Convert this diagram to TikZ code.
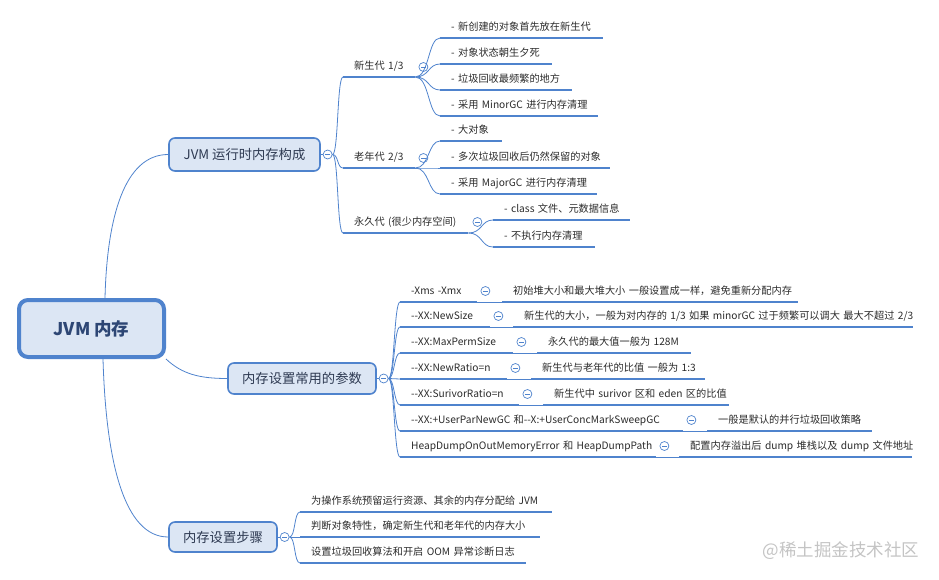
\documentclass[tikz,border=0pt]{standalone}
\usepackage{fontspec}
\newfontfamily\mapfont{Noto Sans CJK SC}
\usetikzlibrary{positioning,calc}
\definecolor{mapline}{HTML}{4F83CD}
\definecolor{mapfill}{HTML}{DCE6F4}
\definecolor{maptext}{HTML}{2E3A52}
\definecolor{roottext}{HTML}{2D4674}
\definecolor{leaftext}{HTML}{2B2B2B}
\definecolor{marktext}{HTML}{C4C4C4}
\tikzset{
  topic/.style={draw=mapline,fill=mapfill,line width=1.6pt,rounded corners=6pt,
    text=maptext,inner sep=0pt,font=\mapfont\fontsize{13.3}{16}\selectfont},
  central/.style={topic,line width=4pt,rounded corners=9pt,text=roottext,
    font=\mapfont\bfseries\fontsize{17.5}{21}\selectfont},
  leaf/.style={anchor=south west,inner xsep=11pt,inner ysep=5pt,text height=8pt,
    text depth=2pt,text=leaftext,font=\mapfont\fontsize{10.2}{12}\selectfont,
    execute at begin node=\hbox\bgroup,execute at end node=\egroup},
  uline/.style={draw=mapline,line width=2.7pt},
  link/.style={draw=mapline,line width=0.8pt},
  fold/.style={circle,draw=mapline,fill=white,line width=0.7pt,minimum size=9pt,
    inner sep=0pt,path picture={\draw[mapline,line width=0.7pt]
    ([xshift=-2.3pt]path picture bounding box.center) --
    ([xshift=2.3pt]path picture bounding box.center);}},
}

\begin{document}
\begin{tikzpicture}[x=1pt,y=-1pt]
  \useasboundingbox (0,0) rectangle (939,580);

  \node[central,minimum width=145pt,minimum height=57pt] (jvm) at (91.5,328.5) {JVM 内存};
  \node[topic,minimum width=151pt,minimum height=33pt] (rt) at (244.5,154.5) {JVM 运行时内存构成};
  \node[topic,minimum width=148pt,minimum height=31pt] (par) at (302,378.5) {内存设置常用的参数};
  \node[topic,minimum width=108pt,minimum height=30pt] (stp) at (223,537) {内存设置步骤};

  \draw[link] ([xshift=13.5pt]jvm.north) .. controls +(2,-80) and +(-44,0) .. (rt.west);
  \draw[link] (jvm.south east) .. controls +(16,15) and +(-28,0) .. (par.west);
  \draw[link] ([xshift=11.5pt]jvm.south) .. controls +(3,103) and +(-44,0) .. (stp.west);

  % runtime memory
  \node[fold,right=2pt of rt] (f-rt) {};
  \draw[link] (rt.east) -- (f-rt.west);
  \node[leaf,text width=50pt] (ng) at (343,77) {新生代 1/3};
  \node[leaf,text width=50pt] (og) at (343,168) {老年代 2/3};
  \node[leaf,text width=103pt] (pg) at (343,233) {永久代 (很少内存空间)};
  \node[leaf,text width=141pt] (ng1) at (440,38) {- 新创建的对象首先放在新生代};
  \node[leaf,text width=90pt] (ng2) at (440,64) {- 对象状态朝生夕死};
  \node[leaf,text width=110pt] (ng3) at (440,90) {- 垃圾回收最频繁的地方};
  \node[leaf,text width=136pt] (ng4) at (440,116) {- 采用 MinorGC 进行内存清理};
  \node[leaf,text width=40pt] (og1) at (440,141) {- 大对象};
  \node[leaf,text width=148pt] (og2) at (440,168) {- 多次垃圾回收后仍然保留的对象};
  \node[leaf,text width=135pt] (og3) at (440,194) {- 采用 MajorGC 进行内存清理};
  \node[leaf,text width=115pt] (pg1) at (493,220) {- class 文件、元数据信息};
  \node[leaf,text width=80pt] (pg2) at (493,247) {- 不执行内存清理};
  \node[fold] (f-ng) at ($(ng.south east)+(8,-10)$) {};
  \node[fold] (f-og) at ($(og.south east)+(8,-10)$) {};
  \node[fold] (f-pg) at ($(pg.south east)+(9,-11)$) {};

  \foreach \c in {ng,og,pg,ng1,ng2,ng3,ng4,og1,og2,og3,pg1,pg2}
    \draw[uline] (\c.south west) -- (\c.south east);
  \foreach \c in {ng,og,pg}
    \draw[link] (f-rt.east) .. controls +(6,0) and +(-6,0) .. (\c.south west);
  \foreach \c in {ng1,ng2,ng3,ng4}
    \draw[link] (ng.south east) .. controls +(14,0) and +(-12,0) .. (\c.south west);
  \foreach \c in {og1,og2,og3}
    \draw[link] (og.south east) .. controls +(14,0) and +(-12,0) .. (\c.south west);
  \foreach \c in {pg1,pg2}
    \draw[link] (pg.south east) .. controls +(14,0) and +(-12,0) .. (\c.south west);

  % parameters
  \node[fold,right=2pt of par] (f-par) {};
  \draw[link] (par.east) -- (f-par.west);
  \foreach \n/\y/\xl/\xr/\xe/\ta/\tb in {
    1/302/477/502/798/{-Xms -Xmx}/{初始堆大小和最大堆大小 一般设置成一样，避免重新分配内存},
    2/327/490/513/913/{--XX:NewSize}/{新生代的大小，一般为对内存的 1/3 如果 minorGC 过于频繁可以调大 最大不超过 2/3},
    3/353/513/537/691/{--XX:MaxPermSize}/{永久代的最大值一般为 128M},
    4/379/507/531/705/{--XX:NewRatio=n}/{新生代与老年代的比值 一般为 1:3},
    5/405/519/543/729/{--XX:SurivorRatio=n}/{新生代中 surivor 区和 eden 区的比值},
    6/431/683/707/872/{--XX:+UserParNewGC 和--X:+UserConcMarkSweepGC}/{一般是默认的并行垃圾回收策略},
    7/457/656/679/912/{HeapDumpOnOutMemoryError 和 HeapDumpPath}/{配置内存溢出后 dump 堆栈以及 dump 文件地址}}{
    \pgfmathsetmacro\wa{\xl-400-22}
    \pgfmathsetmacro\wb{\xe-\xr-22}
    \node[leaf,text width=\wa pt] (p\n) at (400,\y) {\ta};
    \node[leaf,text width=\wb pt] (d\n) at (\xr,\y) {\tb};
    \node[fold] (f-p\n) at ($(p\n.south east)+(8,-11)$) {};
    \draw[uline] (p\n.south west) -- (p\n.south east);
    \draw[uline] (d\n.south west) -- (d\n.south east);
    \draw[link] (p\n.south east) -- (d\n.south west);
    \draw[link] (f-par.east) .. controls +(6,0) and +(-6,0) .. (p\n.south west);
  }

  % steps
  \node[fold,right=2pt of stp] (f-stp) {};
  \draw[link] (stp.east) -- (f-stp.west);
  \node[leaf,text width=230pt] (s1) at (300,512) {为操作系统预留运行资源、其余的内存分配给 JVM};
  \node[leaf,text width=218pt] (s2) at (300,537) {判断对象特性，确定新生代和老年代的内存大小};
  \node[leaf,text width=204pt] (s3) at (300,563) {设置垃圾回收算法和开启 OOM 异常诊断日志};
  \foreach \c in {s1,s2,s3}{
    \draw[uline] (\c.south west) -- (\c.south east);
    \draw[link] (f-stp.east) .. controls +(6,0) and +(-6,0) .. (\c.south west);
  }

  \node[text=marktext,font=\mapfont\fontsize{17.5}{21}\selectfont] (mark) at (841,551) {@稀土掘金技术社区};
\end{tikzpicture}
\end{document}
